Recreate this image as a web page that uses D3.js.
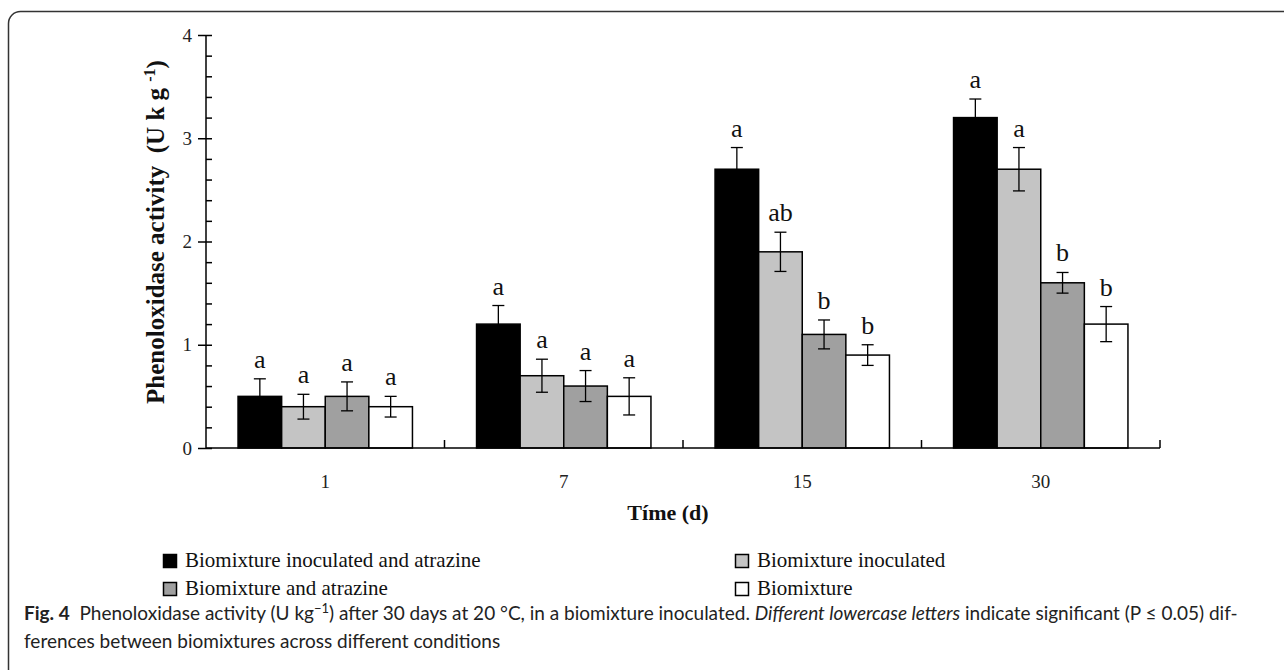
<!DOCTYPE html>
<html>
<head>
<meta charset="utf-8">
<script src="https://cdn.jsdelivr.net/npm/d3@7"></script>
<style>
  body { margin: 0; background: #fff; }
  text { white-space: pre; }
</style>
</head>
<body>
<svg id="chart" width="1284" height="670"></svg>
<script>

// data
var days = ['1', '7', '15', '30']
var series = ['Biomixture inoculated and atrazine', 'Biomixture inoculated', 'Biomixture and atrazine', 'Biomixture']
var colors = ['#000000', '#c4c4c4', '#a0a0a0', '#ffffff']

var values = [
    [0.5, 0.4, 0.5, 0.4],
    [1.2, 0.7, 0.6, 0.5],
    [2.7, 1.9, 1.1, 0.9],
    [3.2, 2.7, 1.6, 1.2]
]
var errors = [
    [0.17, 0.12, 0.14, 0.10],
    [0.18, 0.16, 0.15, 0.18],
    [0.21, 0.19, 0.14, 0.10],
    [0.18, 0.21, 0.10, 0.17]
]
var letters = [
    ['a', 'a', 'a', 'a'],
    ['a', 'a', 'a', 'a'],
    ['a', 'ab', 'b', 'b'],
    ['a', 'a', 'b', 'b']
]
var majorTicks = [0, 1, 2, 3, 4]
var minorTicks = d3.range(0, 21).map(i => i / 5)

var serif = "'Liberation Serif', 'Times New Roman', serif"
var sans = "Lato, 'Open Sans', sans-serif"

var svg = d3.select('#chart')

// frame of the figure panel
svg.append('rect')
    .attr('x', 8.5).attr('y', 11.5)
    .attr('width', 1320).attr('height', 720)
    .attr('rx', 12)
    .attr('fill', 'none')
    .attr('stroke', '#333')
    .attr('stroke-width', 1.5)

var margin = { top: 35, left: 206, bottom: 448, right: 1160 }

var y = d3.scaleLinear()
    .domain([0, 4])
    .range([margin.bottom, margin.top])

var x0 = d3.scaleBand()
    .domain(days)
    .range([margin.left, margin.right])
    .padding(0)

var x1 = d3.scaleBand()
    .domain(series)
    .range([0, x0.bandwidth()])
    .paddingInner(0)
    .paddingOuter(0.735)

var rows = []
days.forEach(function (d, i) {
    series.forEach(function (s, j) {
        rows.push({ day: d, key: s, i: j, v: values[i][j], e: errors[i][j], l: letters[i][j] })
    })
})

// bars
svg.append('g').selectAll('rect')
    .data(rows)
    .enter().append('rect')
    .attr('x', d => x0(d.day) + x1(d.key))
    .attr('y', d => y(d.v))
    .attr('width', x1.bandwidth())
    .attr('height', d => y(0) - y(d.v))
    .attr('fill', d => colors[d.i])
    .attr('stroke', '#000')
    .attr('stroke-width', 1.5)

// error bars
var err = svg.append('g')
    .attr('stroke', '#000')
    .attr('stroke-width', 1.3)
    .selectAll('g')
    .data(rows)
    .enter().append('g')
    .attr('transform', d => 'translate(' + (x0(d.day) + x1(d.key) + x1.bandwidth() / 2) + ',0)')

err.append('line')
    .attr('y1', d => y(d.v - d.e))
    .attr('y2', d => y(d.v + d.e))
err.append('line')
    .attr('x1', -6).attr('x2', 6)
    .attr('y1', d => y(d.v + d.e)).attr('y2', d => y(d.v + d.e))
err.append('line')
    .attr('x1', -6).attr('x2', 6)
    .attr('y1', d => y(d.v - d.e)).attr('y2', d => y(d.v - d.e))

// significance letters
svg.append('g').selectAll('text')
    .data(rows)
    .enter().append('text')
    .attr('x', d => x0(d.day) + x1(d.key) + x1.bandwidth() / 2)
    .attr('y', d => y(d.v + d.e) - 11)
    .attr('text-anchor', 'middle')
    .style('font-family', serif)
    .style('font-size', '26px')
    .attr('fill', '#111')
    .text(d => d.l)

// y axis: major ticks cross, minor ticks inside
var yAxis = svg.append('g')
    .attr('transform', 'translate(' + margin.left + ',0)')
    .call(d3.axisLeft(y).tickValues(majorTicks).tickSize(8).tickPadding(6).tickFormat(d3.format('d')))
svg.append('g')
    .attr('transform', 'translate(' + margin.left + ',0)')
    .call(d3.axisRight(y).tickValues(minorTicks).tickSize(6).tickFormat(''))
    .select('.domain').remove()

yAxis.selectAll('text')
    .style('font-family', serif)
    .style('font-size', '19px')
    .attr('fill', '#222')

svg.selectAll('.tick line, .domain').attr('stroke', '#000').attr('stroke-width', 1.5)
yAxis.select('.domain').attr('d', 'M0,' + y(4) + 'V' + y(0))

// x axis
var xAxis = svg.append('g')
    .attr('transform', 'translate(0,' + margin.bottom + ')')
    .call(d3.axisBottom(x0).tickSize(0).tickPadding(27))
xAxis.select('.domain')
    .attr('d', 'M' + margin.left + ',0H' + margin.right)
    .attr('stroke', '#000').attr('stroke-width', 1.5)
xAxis.selectAll('text')
    .style('font-family', serif)
    .style('font-size', '19px')
    .attr('fill', '#222')

xAxis.selectAll('line.sep')
    .data(days)
    .enter().append('line')
    .attr('class', 'sep')
    .attr('x1', d => x0(d) + x0.bandwidth())
    .attr('x2', d => x0(d) + x0.bandwidth())
    .attr('y1', 0).attr('y2', -8)
    .attr('stroke', '#000').attr('stroke-width', 1.5)

// axis titles
var yt = svg.append('text')
    .attr('transform', 'translate(164,232) rotate(-90)')
    .attr('text-anchor', 'middle')
    .style('font-family', serif)
    .style('font-size', '25px')
    .style('font-weight', 'bold')
    .attr('fill', '#111')
yt.append('tspan').text('Phenoloxidase activity  (U k g ')
yt.append('tspan').attr('dy', -9).style('font-size', '16px').text('-1')
yt.append('tspan').attr('dy', 9).text(')')

svg.append('text')
    .attr('x', 668).attr('y', 520)
    .attr('text-anchor', 'middle')
    .style('font-family', serif)
    .style('font-size', '22px')
    .style('font-weight', 'bold')
    .attr('fill', '#111')
    .text('Tíme (d)')

// legend, two columns
var legendPos = [[163, 554], [735, 554], [163, 582], [735, 582]]
var legend = svg.append('g').selectAll('g')
    .data(series)
    .enter().append('g')
    .attr('transform', (d, i) => 'translate(' + legendPos[i][0] + ',' + legendPos[i][1] + ')')

legend.append('rect')
    .attr('x', 0.5).attr('y', 0.5)
    .attr('width', 13).attr('height', 13)
    .attr('fill', (d, i) => colors[i])
    .attr('stroke', '#000')
    .attr('stroke-width', 1.5)

legend.append('text')
    .attr('x', 22).attr('y', 13)
    .style('font-family', serif)
    .style('font-size', '21px')
    .attr('fill', '#111')
    .text(d => d)

// caption
var cap = svg.append('text')
    .attr('x', 24).attr('y', 620)
    .style('font-family', sans)
    .style('font-size', '19px')
    .attr('fill', '#222')
cap.append('tspan').style('font-weight', 'bold').text('Fig. 4')
cap.append('tspan').text('  Phenoloxidase activity (U kg')
cap.append('tspan').attr('dy', -7).style('font-size', '13px').text('−1')
cap.append('tspan').attr('dy', 7).text(') after 30 days at 20 °C, in a biomixture inoculated. ')
cap.append('tspan').style('font-style', 'italic').text('Different lowercase letters')
cap.append('tspan').text(' indicate significant (P ≤ 0.05) dif-')

svg.append('text')
    .attr('x', 24).attr('y', 648)
    .style('font-family', sans)
    .style('font-size', '19px')
    .attr('fill', '#222')
    .text('ferences between biomixtures across different conditions')

</script>
</body>
</html>
